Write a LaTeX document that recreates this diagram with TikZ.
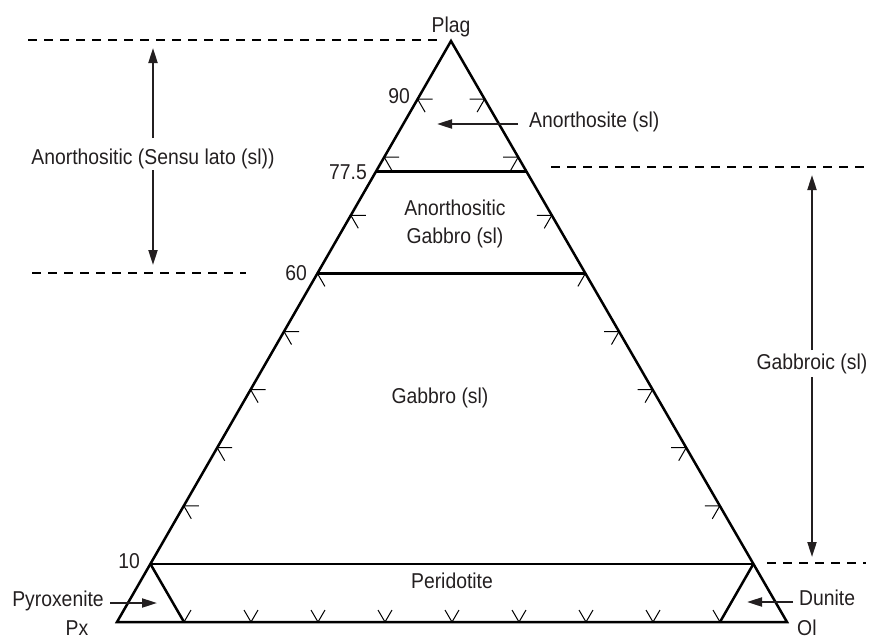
\documentclass[tikz,border=0pt]{standalone}
\usepackage{fontspec}
\setmainfont{Liberation Sans}[FakeStretch=0.9]
\usetikzlibrary{arrows.meta,calc}
\definecolor{txt}{HTML}{231F20}
\begin{document}
\begin{tikzpicture}[x=1pt,y=-1pt,
  lbl/.style={font=\fontsize{21.5}{24}\selectfont, text=txt, inner sep=0pt},
  edgeline/.style={line width=2.5pt, line join=miter},
  levelline/.style={line width=2.5pt},
  tickline/.style={line width=1pt},
  dline/.style={line width=2.4pt, dash pattern=on 9pt off 7pt},
  arr/.style={draw=txt, line width=2pt, -{Triangle[length=15pt,width=9pt]}}
]
\useasboundingbox (0,0) rectangle (873,640);

% triangle vertices
\coordinate (Px) at (117,622);
\coordinate (Ol) at (787,622);
\coordinate (Pl) at (451,41);

% level points
\coordinate (L775) at ($(Px)!0.775!(Pl)$);
\coordinate (R775) at ($(Ol)!0.775!(Pl)$);
\coordinate (L60) at ($(Px)!0.6!(Pl)$);
\coordinate (R60) at ($(Ol)!0.6!(Pl)$);
\coordinate (L10) at ($(Px)!0.1!(Pl)$);
\coordinate (R10) at ($(Ol)!0.1!(Pl)$);
\coordinate (B10) at ($(Px)!0.1!(Ol)$);
\coordinate (B90) at ($(Px)!0.9!(Ol)$);

% triangle
\draw[edgeline] (Pl) -- (Ol) -- (Px) -- cycle;

% level lines
\draw[levelline] (L775) -- (R775);
\draw[levelline] (L60) -- (R60);
\draw[levelline] (L10) -- (R10);
\draw[levelline] (L10) -- (B10);
\draw[levelline] (R10) -- (B90);

% ticks on the sides
\foreach \k in {2,...,9}{
  \coordinate (tl) at ($(Px)!0.\k!(Pl)$);
  \coordinate (tr) at ($(Ol)!0.\k!(Pl)$);
  \draw[tickline] ([xshift=15pt]tl) -- (tl) -- ++(7.5,13);
  \draw[tickline] ([xshift=-15pt]tr) -- (tr) -- ++(-7.5,13);
}
% ticks on the base
\foreach \k in {1,...,9}{
  \coordinate (tb) at ($(Px)!0.\k!(Ol)$);
  \draw[tickline] ($(tb)+(-7,-12)$) -- (tb) -- ++(7,-12);
}

% dashed guide lines
\coordinate (d1a) at (28,40);   \coordinate (d1b) at (437,40);
\coordinate (d2a) at (32,273);  \coordinate (d2b) at (246,273);
\coordinate (d3a) at (551,167); \coordinate (d3b) at (866,167);
\coordinate (d4a) at (767,563); \coordinate (d4b) at (866,563);
\draw[dline] (d1a) -- (d1b);
\draw[dline] (d2a) -- (d2b);
\draw[dline] (d3a) -- (d3b);
\draw[dline] (d4a) -- (d4b);

% labels
\node[lbl, anchor=base] (plag) at (451,32) {Plag};
\node[lbl, anchor=base east] (n90) at (410,103) {90};
\node[lbl, anchor=base east] (n775) at (367,179) {77.5};
\node[lbl, anchor=base east] (n60) at (307,280) {60};
\node[lbl, anchor=base east] (n10) at (140,568) {10};
\node[lbl, anchor=base west] (ano) at (529,127) {Anorthosite (sl)};
\node[lbl, anchor=base] (ag1) at (455,215) {Anorthositic};
\node[lbl, anchor=base] (ag2) at (455,243) {Gabbro (sl)};
\node[lbl, anchor=base] (gab) at (440,403) {Gabbro (sl)};
\node[lbl, anchor=base] (per) at (452,588) {Peridotite};
\node[lbl, anchor=base] (pyr) at (58,606) {Pyroxenite};
\node[lbl, anchor=base] (pxl) at (77,635) {Px};
\node[lbl, anchor=base west] (dun) at (799,605) {Dunite};
\node[lbl, anchor=base west] (oll) at (797,635) {Ol};
\node[lbl, anchor=base] (asl) at (153,164) {Anorthositic (Sensu lato (sl))};
\node[lbl, anchor=base] (gsl) at (812,369) {Gabbroic (sl)};

% arrows
\coordinate (a1s) at (153,138); \coordinate (a1t) at (153,48);
\coordinate (a2s) at (153,170); \coordinate (a2t) at (153,265);
\coordinate (a3s) at (812,350); \coordinate (a3t) at (812,175);
\coordinate (a4s) at (812,377); \coordinate (a4t) at (812,557);
\coordinate (a5s) at (518,124); \coordinate (a5t) at (437,124);
\coordinate (a6s) at (110,603); \coordinate (a6t) at (157,603);
\coordinate (a7s) at (793,602); \coordinate (a7t) at (747,602);
\draw[arr] (a1s) -- (a1t);
\draw[arr] (a2s) -- (a2t);
\draw[arr] (a3s) -- (a3t);
\draw[arr] (a4s) -- (a4t);
\draw[arr] (a5s) -- (a5t);
\draw[arr] (a6s) -- (a6t);
\draw[arr] (a7s) -- (a7t);
\end{tikzpicture}
\end{document}
